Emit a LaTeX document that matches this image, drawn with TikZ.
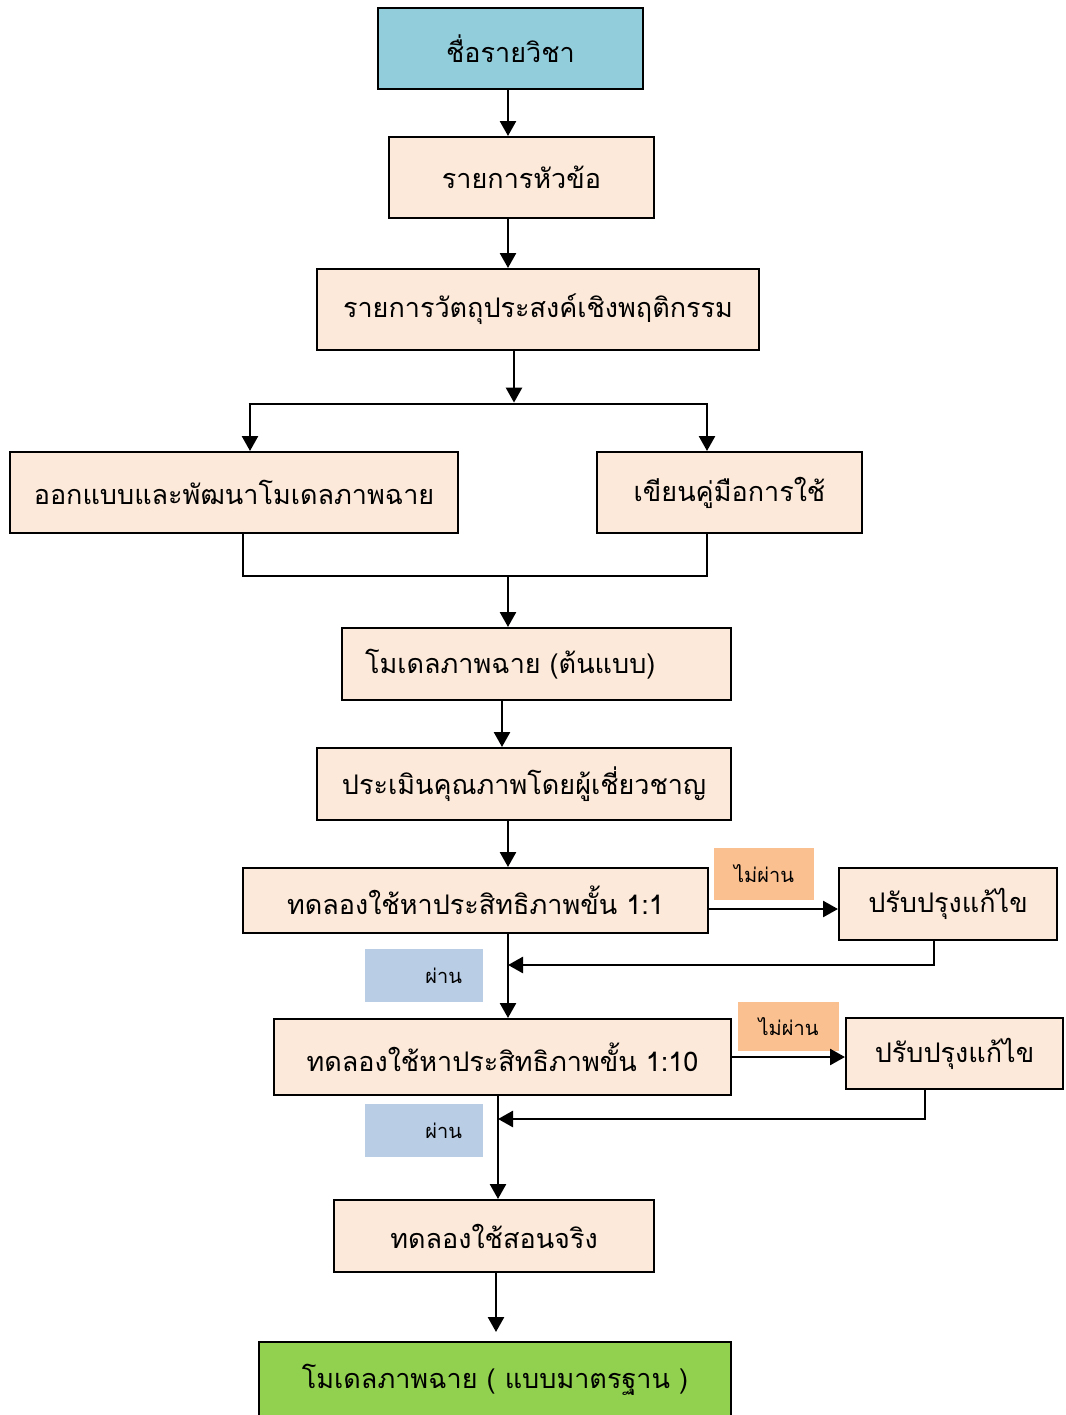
\documentclass[tikz,border=0pt]{standalone}
\usepackage{fontspec}
\newfontfamily\thaifont[Script=Thai]{Loma}
\usepackage{xcolor}
\usetikzlibrary{arrows.meta}
\definecolor{boxfill}{HTML}{FDE9D9}
\definecolor{headfill}{HTML}{92CDDC}
\definecolor{endfill}{HTML}{92D050}
\definecolor{failfill}{HTML}{FAC090}
\definecolor{passfill}{HTML}{B9CDE5}

\begin{document}
\begin{tikzpicture}[x=0.5pt,y=-0.5pt,
box/.style={draw,line width=1pt,fill=boxfill,inner sep=0pt,
  font=\thaifont\fontsize{13.5}{16}\selectfont},
tag/.style={inner sep=0pt,font=\thaifont\fontsize{10}{12}\selectfont},
link/.style={line width=1.3pt},
arrow/.style={line width=1.3pt,-{Triangle[length=7.5pt,width=8pt]}}]
\useasboundingbox (0,0) rectangle (1066,1415);
    \node[box,fill=headfill,minimum width=132.5pt,minimum height=40.5pt] (b1) at (510.5,48.5) {ชื่อรายวิชา};
    \node[box,minimum width=132.5pt,minimum height=40.5pt] (b2) at (521.5,177.5) {รายการหัวข้อ};
    \node[box,minimum width=221pt,minimum height=40.5pt] (b3) at (538,309.5) {รายการวัตถุประสงค์เชิงพฤติกรรม};
    \node[box,minimum width=224pt,minimum height=40.5pt] (b4) at (234,492.5) {ออกแบบและพัฒนาโมเดลภาพฉาย};
    \node[box,minimum width=132.5pt,minimum height=40.5pt] (b5) at (729.5,492.5) {เขียนคู่มือการใช้};
    \node[box,minimum height=36pt,inner xsep=11.5pt,text width=171.5pt,align=left] (b6) at (536.5,664) {โมเดลภาพฉาย (ต้นแบบ)};
    \node[box,minimum width=207pt,minimum height=36pt] (b7) at (524,784) {ประเมินคุณภาพโดยผู้เชี่ยวชาญ};
    \node[box,minimum width=232.5pt,minimum height=32.5pt] (b8) at (475.5,900.5) {ทดลองใช้หาประสิทธิภาพขั้น 1:1};
    \node[box,minimum width=109pt,minimum height=36pt] (b9) at (948,904) {ปรับปรุงแก้ไข};
    \node[box,minimum width=228.5pt,minimum height=38pt] (b10) at (502.5,1057) {ทดลองใช้หาประสิทธิภาพขั้น 1:10};
    \node[box,minimum width=108.5pt,minimum height=35.5pt] (b11) at (954.5,1053.5) {ปรับปรุงแก้ไข};
    \node[box,minimum width=160pt,minimum height=36pt] (b12) at (494,1236) {ทดลองใช้สอนจริง};
    \node[box,fill=endfill,minimum width=236pt,minimum height=38pt] (b13) at (495,1380) {โมเดลภาพฉาย ( แบบมาตรฐาน )};
    % labels on the test steps
    \node[tag,fill=failfill,minimum width=50pt,minimum height=26pt] (f1) at (764,874) {ไม่ผ่าน};
    \node[tag,fill=failfill,minimum width=50.5pt,minimum height=24.5pt] (f2) at (788.5,1026.5) {ไม่ผ่าน};
    \node[tag,fill=passfill,minimum height=26.5pt,inner xsep=10.5pt,text width=38pt,align=right] (p1) at (424,975.5) {ผ่าน};
    \node[tag,fill=passfill,minimum height=26.5pt,inner xsep=10.5pt,text width=38pt,align=right] (p2) at (424,1130.5) {ผ่าน};
    % columns and turning points
    \coordinate (c1) at (508,0);
    \coordinate (c3) at (514,0);
    \coordinate (c6) at (502,0);
    \coordinate (c10) at (498,0);
    \coordinate (c12) at (496,0);
    \coordinate (sL) at (250,404);
    \coordinate (sR) at (707,404);
    \coordinate (mL) at (243,576);
    \coordinate (mR) at (707,576);
    \coordinate (r1) at (0,909);
    \coordinate (r2) at (0,1057);
    \coordinate (back1) at (934,965);
    \coordinate (back2) at (925,1119);
    % main flow
    \draw[arrow] (c1 |- b1.south) -- (c1 |- b2.north);
    \draw[arrow] (c1 |- b2.south) -- (c1 |- b3.north);
    \draw[arrow] (c3 |- b3.south) -- ([yshift=0.7pt]c3 |- sL);
    \draw[link] ([xshift=-0.65pt]sL) -- ([xshift=0.65pt]sR);
    \draw[arrow] (sL) -- (sL |- b4.north);
    \draw[arrow] (sR) -- (sR |- b5.north);
    \draw[link] (mL |- b4.south) -- (mL) -- (mR) -- (mR |- b5.south);
    \draw[arrow] (c1 |- mL) -- (c1 |- b6.north);
    \draw[arrow] (c6 |- b6.south) -- (c6 |- b7.north);
    \draw[arrow] (c1 |- b7.south) -- (c1 |- b8.north);
    \draw[arrow] (c1 |- b8.south) -- (c1 |- b10.north);
    \draw[arrow] (c10 |- b10.south) -- (c10 |- b12.north);
    \draw[arrow] (c12 |- b12.south) -- ([yshift=4.5pt]c12 |- b13.north);
    % failed tests go back through the fix boxes
    \draw[arrow] (b8.east |- r1) -- (b9.west |- r1);
    \draw[arrow] (back1 |- b9.south) -- (back1) -- (back1 -| c1);
    \draw[arrow] (b10.east |- r2) -- (b11.west |- r2);
    \draw[arrow] (back2 |- b11.south) -- (back2) -- (back2 -| c10);
\end{tikzpicture}
\end{document}
